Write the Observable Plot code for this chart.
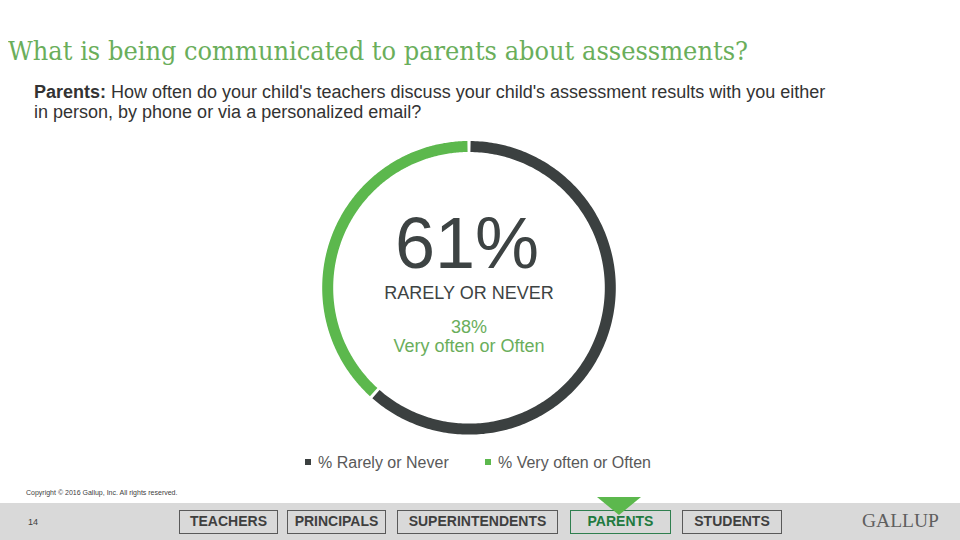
<!DOCTYPE html>
<html>
<head>
<meta charset="utf-8">
<script src="https://cdn.jsdelivr.net/npm/d3@7"></script>
<script src="https://cdn.jsdelivr.net/npm/@observablehq/plot@0.6"></script>
<style>
  html, body { margin: 0; padding: 0; background: #fff; }
  body { width: 960px; height: 540px; position: relative; overflow: hidden; font-family: "Liberation Sans", Arial, sans-serif; }
  .abs { position: absolute; white-space: nowrap; }
  #title { left: 8px; top: 35.5px; font-family: "DejaVu Serif", "Liberation Serif", serif; font-size: 26px; line-height: 30px; color: #6aae5b; transform-origin: 0 0; }
  #subtitle { left: 34px; top: 82.4px; font-size: 18px; line-height: 20px; color: #333; }
  #chart { position: absolute; left: 0; top: 130px; }
  .leg { font-size: 16px; line-height: 20px; color: #595959; top: 452.5px; }
  .sw { position: absolute; width: 6px; height: 6px; top: 459px; }
  #copy { left: 26px; top: 488.5px; font-size: 7px; color: #404040; }
  #bar { position: absolute; left: 0; top: 503px; width: 960px; height: 37px; background: #d9d9d9; }
  .btn { position: absolute; top: 510px; height: 24px; box-sizing: border-box; border: 1.5px solid #595959; font-weight: bold; font-size: 14px; line-height: 21px; text-align: center; color: #3f3f3f; }
  #page { left: 28px; top: 517px; font-size: 9px; color: #404040; }
  #logo { left: 862px; top: 511px; font-family: "Liberation Serif", "Times New Roman", serif; font-size: 19.5px; line-height: 20px; color: #5f5f5f; }
  #tri { position: absolute; left: 597px; top: 497px; width: 0; height: 0; border-left: 22px solid transparent; border-right: 22px solid transparent; border-top: 18px solid #5cb84d; }
</style>
</head>
<body>
<div id="title" class="abs">What is being communicated to parents about assessments?</div>
<div id="subtitle" class="abs"><span id="sub1"><b>Parents:</b> How often do your child's teachers discuss your child's assessment results with you either</span><br><span id="sub2">in person, by phone or via a personalized email?</span></div>
<div id="chart"></div>
<div id="legend"></div>
<div id="copy" class="abs">Copyright © 2016 Gallup, Inc. All rights reserved.</div>
<div id="bar"></div>
<div id="page" class="abs">14</div>
<div id="nav"></div>
<div id="tri"></div>
<div id="logo" class="abs">GALLUP</div>
<script>
// ---- data ----
const categories = ["% Rarely or Never", "% Very often or Often"];
const values = [61, 38];
const colors = ["#3b4040", "#5cb84d"];
const headlineValue = "61%";
const headlineLabel = "RARELY OR NEVER";
const secondValue = "38%";
const secondLabel = "Very often or Often";
const navTabs = ["TEACHERS", "PRINCIPALS", "SUPERINTENDENTS", "PARENTS", "STUDENTS"];
const activeTab = "PARENTS";

// ---- build ring points from values ----
const total = d3.sum(values);
const pad = 0.0107; // radians each side
const ring = [];
let cum = 0;
values.forEach((v, i) => {
  const a0 = cum / total * 2 * Math.PI + pad;
  const a1 = (cum + v) / total * 2 * Math.PI - pad;
  const n = 240;
  for (let k = 0; k <= n; k++) {
    const a = a0 + (a1 - a0) * k / n;
    ring.push({category: categories[i], angle: a, x: Math.sin(a), y: Math.cos(a)});
  }
  cum += v;
});

const center = [{x: 0, y: 0}];
const plot = Plot.plot({
  width: 960,
  height: 320,
  margin: 0,
  x: {domain: [-1, 1], range: [327.2, 609.8], axis: null},
  y: {domain: [-1, 1], range: [298.6, 16.0], axis: null},
  color: {domain: categories, range: colors},
  style: {fontFamily: "'Liberation Sans', Arial, sans-serif", background: "transparent"},
  marks: [
    Plot.line(ring, {x: "x", y: "y", z: "category", stroke: "category", strokeWidth: 11, strokeLinecap: "butt", curve: "linear"}),
    Plot.text(center, {x: "x", y: "y", text: () => headlineValue, fontSize: 72, fill: "#3d4343", lineAnchor: "bottom", dy: -20.3, dx: -2}),
    Plot.text(center, {x: "x", y: "y", text: () => headlineLabel, fontSize: 18, fill: "#3d4343", lineAnchor: "bottom", dy: 10.7}),
    Plot.text(center, {x: "x", y: "y", text: () => secondValue, fontSize: 18, fill: "#6aae5b", lineAnchor: "bottom", dy: 45.4}),
    Plot.text(center, {x: "x", y: "y", text: () => secondLabel, fontSize: 18, fill: "#6aae5b", lineAnchor: "bottom", dy: 64})
  ]
});
document.getElementById("chart").appendChild(plot);

// ---- legend ----
const legend = document.getElementById("legend");
const legX = [305, 485];
categories.forEach((c, i) => {
  const sw = document.createElement("div");
  sw.className = "sw";
  sw.style.left = legX[i] + "px";
  sw.style.background = colors[i];
  legend.appendChild(sw);
  const t = document.createElement("div");
  t.className = "abs leg";
  t.style.left = (legX[i] + 13) + "px";
  t.textContent = c;
  legend.appendChild(t);
});

// ---- nav ----
const navPos = [[179, 99], [287, 99], [397, 161], [570, 101], [682, 100]];
const nav = document.getElementById("nav");
navTabs.forEach((t, i) => {
  const b = document.createElement("div");
  b.className = "btn";
  b.style.left = navPos[i][0] + "px";
  b.style.width = navPos[i][1] + "px";
  b.textContent = t;
  if (t === activeTab) { b.style.borderColor = "#2f7f4f"; b.style.color = "#217a3f"; }
  nav.appendChild(b);
});

// fit title width
const title = document.getElementById("title");
const w = title.getBoundingClientRect().width;
title.style.transform = `scaleX(${740 / w})`;
</script>
</body>
</html>
